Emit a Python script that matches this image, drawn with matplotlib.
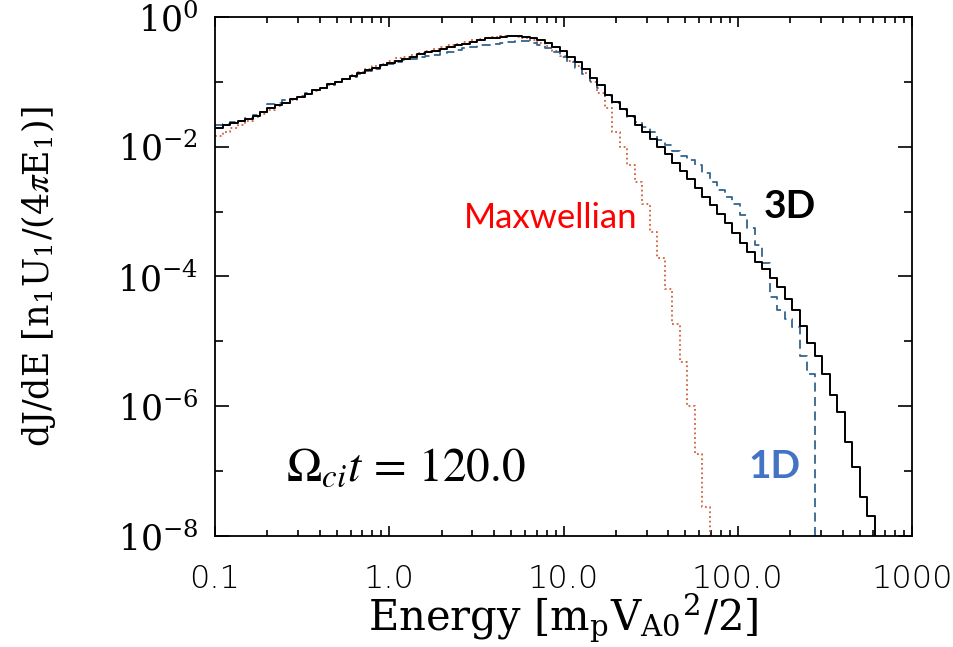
import numpy as np
import matplotlib
matplotlib.use("Agg")
import matplotlib.pyplot as plt

# energy bins (log spaced histogram, 0.1 .. 1000)
E_EDGES = np.logspace(-1, 3, 94)

# log10(dJ/dE) per bin; bins past the end are empty
LOG_3D = [-1.71, -1.67, -1.64, -1.60, -1.57, -1.52, -1.47, -1.41, -1.36, -1.32,
          -1.27, -1.23, -1.18, -1.13, -1.09, -1.04, -1.00, -0.95, -0.91, -0.86,
          -0.82, -0.78, -0.74, -0.71, -0.68, -0.65, -0.62, -0.57, -0.54, -0.52,
          -0.50, -0.47, -0.44, -0.41, -0.38, -0.35, -0.33, -0.32, -0.31, -0.30,
          -0.30, -0.31, -0.33, -0.35, -0.40, -0.46, -0.52, -0.61, -0.70, -0.80,
          -0.94, -1.05, -1.20, -1.31, -1.42, -1.53, -1.66, -1.78, -1.88, -2.00,
          -2.12, -2.25, -2.37, -2.50, -2.63, -2.77, -2.90, -3.03, -3.17, -3.33,
          -3.48, -3.63, -3.77, -3.89, -4.03, -4.17, -4.35, -4.51, -4.77, -5.02,
          -5.23, -5.51, -5.82, -6.09, -6.55, -6.94, -7.40, -7.69]

LOG_1D = [-1.67, -1.65, -1.62, -1.60, -1.55, -1.51, -1.46, -1.34, -1.32, -1.28,
          -1.26, -1.22, -1.17, -1.13, -1.10, -1.05, -1.01, -0.96, -0.92, -0.88,
          -0.84, -0.80, -0.76, -0.73, -0.70, -0.67, -0.65, -0.62, -0.60, -0.58,
          -0.56, -0.54, -0.51, -0.48, -0.46, -0.44, -0.43, -0.41, -0.40, -0.38,
          -0.37, -0.37, -0.40, -0.43, -0.48, -0.54, -0.62, -0.70, -0.79, -0.88,
          -0.99, -1.10, -1.22, -1.33, -1.44, -1.54, -1.62, -1.69, -1.78, -1.89,
          -1.97, -2.06, -2.14, -2.20, -2.28, -2.40, -2.54, -2.66, -2.77, -2.89,
          -3.05, -3.25, -3.51, -3.80, -4.31, -4.51, -4.65, -4.78, -5.23, -5.51]

LOG_MAXW = [-1.83, -1.77, -1.71, -1.66, -1.60, -1.54, -1.49, -1.43, -1.38, -1.33,
            -1.28, -1.24, -1.19, -1.14, -1.10, -1.05, -1.00, -0.95, -0.90, -0.85,
            -0.80, -0.76, -0.72, -0.68, -0.64, -0.61, -0.58, -0.55, -0.52, -0.49,
            -0.46, -0.43, -0.41, -0.38, -0.36, -0.34, -0.32, -0.31, -0.30, -0.30,
            -0.31, -0.33, -0.36, -0.40, -0.45, -0.52, -0.60, -0.68, -0.76, -0.87,
            -1.00, -1.17, -1.40, -1.77, -2.00, -2.28, -2.55, -2.89, -3.31, -3.72,
            -4.20, -4.74, -5.32, -6.00, -6.74, -7.55]

X_TICKS = [0.1, 1.0, 10.0, 100.0, 1000.0]
X_LABELS = ["0.1", "1.0", "10.0", "100.0", "1000"]
Y_TICKS = [1e0, 1e-2, 1e-4, 1e-6, 1e-8]
Y_LABELS = [r"$\mathregular{10^{0}}$", r"$\mathregular{10^{-2}}$", r"$\mathregular{10^{-4}}$",
            r"$\mathregular{10^{-6}}$", r"$\mathregular{10^{-8}}$"]


def to_hist(logs):
    # empty bins -> 0 so the step drops to the bottom of the axes
    v = np.zeros(len(E_EDGES) - 1)
    v[:len(logs)] = 10.0 ** np.array(logs)
    return np.append(v, v[-1])


plt.rcParams["mathtext.fontset"] = "stix"

fig = plt.figure(figsize=(9.54, 6.47), dpi=100)
ax = fig.add_axes([0.2254, 0.1716, 0.7306, 0.8022])

ax.step(E_EDGES, to_hist(LOG_MAXW), where="post", color="#d0603a", lw=1.3, ls=(0, (1, 1.6)))
ax.step(E_EDGES, to_hist(LOG_1D), where="post", color="#35658f", lw=1.3, ls=(0, (5, 3)))
ax.step(E_EDGES, to_hist(LOG_3D), where="post", color="black", lw=1.4)

ax.set_xscale("log")
ax.set_yscale("log")
ax.set_xlim(0.1, 1000)
ax.set_ylim(1e-8, 1)

ax.set_xticks(X_TICKS)
ax.set_xticklabels(X_LABELS, family="DejaVu Sans", fontweight="light", fontsize=23)
ax.xaxis.set_minor_locator(matplotlib.ticker.LogLocator(base=10, subs=np.arange(2, 10)))
ax.xaxis.set_minor_formatter(matplotlib.ticker.NullFormatter())
ax.set_yticks(Y_TICKS)
ax.set_yticklabels(Y_LABELS, family="DejaVu Serif", fontsize=25)
ax.set_yticks([1e-1, 1e-3, 1e-5, 1e-7], minor=True)
ax.yaxis.set_minor_formatter(matplotlib.ticker.NullFormatter())

ax.tick_params(which="both", direction="in", top=True, right=True, width=1.2)
ax.tick_params(axis="x", which="major", length=7.5, pad=20)
ax.tick_params(axis="x", which="minor", length=4)
ax.tick_params(axis="y", which="major", length=10, pad=12)
ax.tick_params(axis="y", which="minor", length=6)
for s in ax.spines.values():
    s.set_linewidth(1.3)

ax.set_xlabel(r"Energy [m$_\mathregular{p}$V$_\mathregular{A0}$$^\mathregular{2}$/2]",
              family="DejaVu Serif", fontsize=30)
ax.xaxis.set_label_coords(0.5, -0.108)
ax.set_ylabel(r"dJ/dE [n$_\mathregular{1}$U$_\mathregular{1}$/(4$\pi$E$_\mathregular{1}$)]",
              family="DejaVu Serif", fontsize=25)
ax.yaxis.set_label_coords(-0.225, 0.5)

ax.text(0.273, 0.131, r"$\Omega_{ci}t\,=\,120.0$", transform=ax.transAxes,
        fontsize=34, ha="center", va="center")
ax.text(0.481, 0.613, "Maxwellian", transform=ax.transAxes, color="red",
        family="Lato", fontsize=25, ha="center", va="center")
ax.text(0.825, 0.634, "3D", transform=ax.transAxes, color="black",
        family="Lato", fontweight="bold", fontsize=28, ha="center", va="center")
ax.text(0.802, 0.133, "1D", transform=ax.transAxes, color="#4472c4",
        family="Lato", fontweight="bold", fontsize=28, ha="center", va="center")

fig.savefig("out.png", dpi=100)
